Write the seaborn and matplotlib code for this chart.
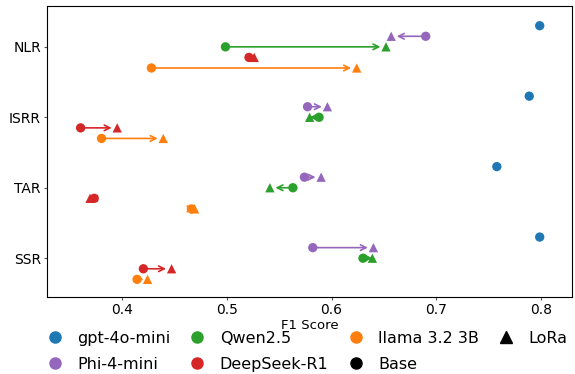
import pandas as pd
import matplotlib
matplotlib.use("Agg")
import matplotlib.pyplot as plt
from matplotlib.lines import Line2D
import seaborn as sns

# Data
tasks = ['NLR', 'ISRR', 'TAR', 'SSR']
models = ['gpt-4o-mini', 'Phi-4-mini', 'Qwen2.5', 'DeepSeek-R1', 'llama 3.2 3B']
colors = ['#1f77b4', '#9467bd', '#2ca02c', '#d62728', '#ff7f0e']

base_gpt = [0.799, 0.789, 0.758, 0.799]
base_phi = [0.690, 0.577, 0.574, 0.582]
base_qwen = [0.4985, 0.588, 0.563, 0.630]
base_deepseek = [0.521, 0.360, 0.373, 0.420]
base_llama = [0.4277, 0.380, 0.466, 0.414]

lora_phi = [0.657, 0.596, 0.590, 0.640]
lora_qwen = [0.652, 0.579, 0.541, 0.639]
lora_deepseek = [0.526, 0.395, 0.369, 0.447]
lora_llama = [0.624, 0.439, 0.469, 0.424]

base = {'gpt-4o-mini': base_gpt, 'Phi-4-mini': base_phi, 'Qwen2.5': base_qwen,
        'DeepSeek-R1': base_deepseek, 'llama 3.2 3B': base_llama}
lora = {'Phi-4-mini': lora_phi, 'Qwen2.5': lora_qwen,
        'DeepSeek-R1': lora_deepseek, 'llama 3.2 3B': lora_llama}

offsets = {'gpt-4o-mini': -0.3, 'Phi-4-mini': -0.15, 'Qwen2.5': 0.0,
           'DeepSeek-R1': 0.15, 'llama 3.2 3B': 0.3}
palette = dict(zip(models, colors))

rows = []
for m in models:
    for i, t in enumerate(tasks):
        y = i + offsets[m]
        rows.append({'model': m, 'type': 'Base', 'x': base[m][i], 'y': y})
        if m in lora:
            rows.append({'model': m, 'type': 'LoRa', 'x': lora[m][i], 'y': y})
df = pd.DataFrame(rows)

fig, ax = plt.subplots(figsize=(5.75, 3.74), dpi=100)

# arrows from base to LoRa
for m in lora:
    for i in range(len(tasks)):
        y = i + offsets[m]
        ax.annotate('', xy=(lora[m][i], y), xytext=(base[m][i], y),
                    arrowprops=dict(arrowstyle='->', color=palette[m], lw=1.2,
                                    shrinkA=3, shrinkB=4))

sns.scatterplot(data=df, x='x', y='y', hue='model', style='type',
                markers={'Base': 'o', 'LoRa': '^'}, palette=palette,
                s=45, edgecolor='none', legend=False, ax=ax, zorder=3)

ax.set_yticks(range(len(tasks)))
ax.set_yticklabels(tasks, fontsize=10)
ax.set_ylim(3.55, -0.58)
ax.set_xlim(0.328, 0.83)
ax.set_xticks([0.4, 0.5, 0.6, 0.7, 0.8])
ax.tick_params(axis='x', labelsize=10, length=2.5, pad=2, color='#555555')
ax.tick_params(axis='y', length=2.5, pad=2, color='#555555')
ax.set_xlabel('F1 Score', fontsize=9.5, labelpad=1)
ax.set_ylabel('')

handles = [Line2D([], [], marker='o', linestyle='', color=c, markersize=8) for c in colors]
handles += [Line2D([], [], marker='o', linestyle='', color='black', markersize=8),
            Line2D([], [], marker='^', linestyle='', color='black', markersize=8)]
labels = models + ['Base', 'LoRa']
fig.legend(handles, labels, loc='lower center', bbox_to_anchor=(0.527, -0.032),
           ncol=4, frameon=False, fontsize=11.5, handletextpad=0.4,
           columnspacing=0.7, labelspacing=0.66)

fig.subplots_adjust(left=0.082, right=0.995, top=0.984, bottom=0.206)
fig.savefig('out.png', dpi=100)
